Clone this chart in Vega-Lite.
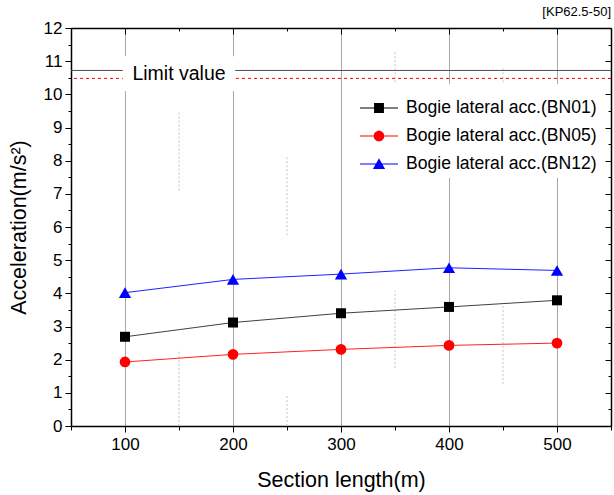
{
  "$schema": "https://vega.github.io/schema/vega-lite/v6.json",
  "autosize": "none",
  "width": 540,
  "height": 398,
  "padding": {"left": 71, "top": 28, "right": 3, "bottom": 69},
  "background": "white",
  "title": {"text": "[KP62.5-50]", "anchor": "end", "frame": "group", "fontSize": 13, "fontWeight": "normal", "font": "Liberation Sans", "color": "#000000", "offset": 0},
  "config": {"font": "Liberation Sans", "view": {"stroke": null}},
  "datasets": {
    "series": [
      {"length": 100, "series": "Bogie lateral acc.(BN01)", "acc": 2.69},
      {"length": 200, "series": "Bogie lateral acc.(BN01)", "acc": 3.12},
      {"length": 300, "series": "Bogie lateral acc.(BN01)", "acc": 3.40},
      {"length": 400, "series": "Bogie lateral acc.(BN01)", "acc": 3.59},
      {"length": 500, "series": "Bogie lateral acc.(BN01)", "acc": 3.79},
      {"length": 100, "series": "Bogie lateral acc.(BN05)", "acc": 1.93},
      {"length": 200, "series": "Bogie lateral acc.(BN05)", "acc": 2.16},
      {"length": 300, "series": "Bogie lateral acc.(BN05)", "acc": 2.31},
      {"length": 400, "series": "Bogie lateral acc.(BN05)", "acc": 2.43},
      {"length": 500, "series": "Bogie lateral acc.(BN05)", "acc": 2.50},
      {"length": 100, "series": "Bogie lateral acc.(BN12)", "acc": 4.02},
      {"length": 200, "series": "Bogie lateral acc.(BN12)", "acc": 4.42},
      {"length": 300, "series": "Bogie lateral acc.(BN12)", "acc": 4.58},
      {"length": 400, "series": "Bogie lateral acc.(BN12)", "acc": 4.77},
      {"length": 500, "series": "Bogie lateral acc.(BN12)", "acc": 4.69}
    ],
    "segments": [
      {"length": 150, "from": 7.1, "to": 9.5},
      {"length": 150, "from": 0, "to": 2.3},
      {"length": 250, "from": 5.75, "to": 8.1},
      {"length": 250, "from": 0, "to": 0.95},
      {"length": 350, "from": 10.0, "to": 11.27},
      {"length": 350, "from": 1.75, "to": 4.07},
      {"length": 450, "from": 10.0, "to": 10.8},
      {"length": 450, "from": 1.27, "to": 3.65}
    ],
    "limits": [
      {"kind": "solid", "level": 10.72},
      {"kind": "dashed", "level": 10.48}
    ],
    "annotation": [
      {"label": "Limit value", "x": 150, "y": 10.6, "left": 98, "right": 202, "bottom": 10.1, "top": 11.15}
    ]
  },
  "resolve": {"axis": {"x": "independent", "y": "independent"}},
  "layer": [
    {
      "data": {"name": "segments"},
      "mark": {"type": "rule", "color": "#c4c4c4", "strokeDash": [2, 2], "strokeWidth": 1},
      "encoding": {
        "x": {"field": "length", "type": "quantitative", "scale": {"domain": [50, 550], "nice": false, "zero": false},
          "axis": {"orient": "bottom", "values": [50, 100, 150, 200, 250, 300, 350, 400, 450, 500, 550],
            "labelExpr": "datum.value % 100 === 0 ? format(datum.value, 'd') : ''",
            "tickSize": {"condition": {"test": "datum.value % 100 === 0", "value": 6}, "value": 4},
            "tickColor": "#000000", "tickWidth": 1, "domainColor": "#000000", "domainWidth": 1.5,
            "labelFontSize": 17, "labelColor": "#000000", "labelFont": "Liberation Sans", "labelPadding": 4,
            "labelFlush": false, "labelOverlap": false,
            "title": "Section length(m)", "titleFontSize": 21.5, "titleFontWeight": "normal", "titleFont": "Liberation Sans", "titleColor": "#000000", "titlePadding": 17,
            "grid": true, "gridColor": "#a8a8a8", "gridWidth": 1,
            "gridOpacity": {"condition": {"test": "datum.value % 100 === 0", "value": 1}, "value": 0}}},
        "y": {"field": "from", "type": "quantitative", "scale": {"domain": [0, 12], "nice": false, "zero": true},
          "axis": {"orient": "left", "values": [0, 0.5, 1, 1.5, 2, 2.5, 3, 3.5, 4, 4.5, 5, 5.5, 6, 6.5, 7, 7.5, 8, 8.5, 9, 9.5, 10, 10.5, 11, 11.5, 12],
            "labelExpr": "datum.value % 1 === 0 ? format(datum.value, 'd') : ''",
            "tickSize": {"condition": {"test": "datum.value % 1 === 0", "value": 6}, "value": 3},
            "tickColor": "#000000", "tickWidth": 1, "domainColor": "#000000", "domainWidth": 1.5,
            "labelFontSize": 17, "labelColor": "#000000", "labelFont": "Liberation Sans", "labelPadding": 3,
            "labelFlush": false, "labelOverlap": false,
            "title": "Acceleration(m/s²)", "titleFontSize": 21.5, "titleFontWeight": "normal", "titleFont": "Liberation Sans", "titleColor": "#000000", "titlePadding": 13,
            "grid": false}},
        "y2": {"field": "to"}
      }
    },
    {
      "data": {"name": "limits"},
      "transform": [{"filter": "datum.kind === 'solid'"}],
      "mark": {"type": "rule", "color": "#505050", "strokeWidth": 1},
      "encoding": {"y": {"field": "level", "type": "quantitative", "scale": {"domain": [0, 12], "nice": false}, "axis": null}}
    },
    {
      "data": {"name": "limits"},
      "transform": [{"filter": "datum.kind === 'dashed'"}],
      "mark": {"type": "rule", "color": "#ff0000", "strokeWidth": 1, "strokeDash": [3, 3]},
      "encoding": {"y": {"field": "level", "type": "quantitative", "scale": {"domain": [0, 12], "nice": false}, "axis": null}}
    },
    {
      "data": {"name": "annotation"},
      "mark": {"type": "rect", "fill": "#ffffff", "stroke": null},
      "encoding": {
        "x": {"field": "left", "type": "quantitative", "scale": {"domain": [50, 550], "nice": false, "zero": false},
          "axis": {"orient": "top", "values": [50, 100, 150, 200, 250, 300, 350, 400, 450, 500, 550], "labels": false,
            "tickSize": {"condition": {"test": "datum.value % 100 === 0", "value": -6}, "value": -3},
            "tickColor": "#000000", "tickWidth": 1, "domainColor": "#000000", "domainWidth": 1.5, "title": null, "grid": false}},
        "x2": {"field": "right"},
        "y": {"field": "bottom", "type": "quantitative", "scale": {"domain": [0, 12], "nice": false},
          "axis": {"orient": "right", "values": [0, 0.5, 1, 1.5, 2, 2.5, 3, 3.5, 4, 4.5, 5, 5.5, 6, 6.5, 7, 7.5, 8, 8.5, 9, 9.5, 10, 10.5, 11, 11.5, 12], "labels": false,
            "tickSize": {"condition": {"test": "datum.value % 1 === 0", "value": -6}, "value": -3},
            "tickColor": "#000000", "tickWidth": 1, "domainColor": "#000000", "domainWidth": 1.5, "title": null, "grid": false}},
        "y2": {"field": "top"}
      }
    },
    {
      "data": {"name": "annotation"},
      "mark": {"type": "text", "fontSize": 19.5, "font": "Liberation Sans", "color": "#000000", "align": "center", "baseline": "middle"},
      "encoding": {
        "x": {"field": "x", "type": "quantitative", "scale": {"domain": [50, 550], "nice": false, "zero": false}, "axis": null},
        "y": {"field": "y", "type": "quantitative", "scale": {"domain": [0, 12], "nice": false}, "axis": null},
        "text": {"field": "label"}
      }
    },
    {
      "data": {"name": "series"},
      "mark": {"type": "point", "filled": true, "opacity": 0},
      "encoding": {
        "x": {"field": "length", "type": "quantitative", "scale": {"domain": [50, 550], "nice": false, "zero": false}, "axis": null},
        "y": {"field": "acc", "type": "quantitative", "scale": {"domain": [0, 12], "nice": false}, "axis": null},
        "fill": {"field": "series", "type": "nominal",
          "scale": {"domain": ["Bogie lateral acc.(BN01)", "Bogie lateral acc.(BN05)", "Bogie lateral acc.(BN12)"], "range": ["#000000", "#ff0000", "#0000ff"]},
          "legend": {"orient": "none", "legendX": 284, "legendY": 56, "title": null, "fillColor": "#ffffff", "padding": 5,
            "labelFontSize": 17.6, "labelFont": "Liberation Sans", "labelColor": "#000000", "labelLimit": 0,
            "symbolSize": 1444, "symbolStrokeWidth": 0, "symbolOpacity": 1, "labelOffset": 8, "rowPadding": -8, "symbolOffset": 0}},
        "shape": {"field": "series", "type": "nominal",
          "scale": {"domain": ["Bogie lateral acc.(BN01)", "Bogie lateral acc.(BN05)", "Bogie lateral acc.(BN12)"],
            "range": [
              "M-1,-0.03H1V0.03H-1Z M-0.26,-0.26H0.26V0.26H-0.26Z",
              "M-1,-0.03H1V0.03H-1Z M-0.28,0A0.28,0.28 0 1,1 0.28,0A0.28,0.28 0 1,1 -0.28,0Z",
              "M-1,-0.03H1V0.03H-1Z M0,-0.3L0.32,0.26H-0.32Z"
            ]},
          "legend": {"orient": "none", "legendX": 284, "legendY": 56, "title": null, "fillColor": "#ffffff", "padding": 5,
            "labelFontSize": 17.6, "labelFont": "Liberation Sans", "labelColor": "#000000", "labelLimit": 0,
            "symbolSize": 1444, "symbolStrokeWidth": 0, "symbolOpacity": 1, "labelOffset": 8, "rowPadding": -8, "symbolOffset": 0}}
      }
    },
    {
      "data": {"name": "series"},
      "mark": {"type": "line", "strokeWidth": 1},
      "encoding": {
        "x": {"field": "length", "type": "quantitative", "scale": {"domain": [50, 550], "nice": false, "zero": false}, "axis": null},
        "y": {"field": "acc", "type": "quantitative", "scale": {"domain": [0, 12], "nice": false}, "axis": null},
        "color": {"field": "series", "type": "nominal", "scale": {"domain": ["Bogie lateral acc.(BN01)", "Bogie lateral acc.(BN05)", "Bogie lateral acc.(BN12)"], "range": ["#404040", "#ff2020", "#2020ff"]}, "legend": null}
      }
    },
    {
      "data": {"name": "series"},
      "transform": [{"filter": "datum.series === 'Bogie lateral acc.(BN01)'"}],
      "mark": {"type": "point", "shape": "square", "filled": true, "size": 100, "color": "#000000", "opacity": 1},
      "encoding": {
        "x": {"field": "length", "type": "quantitative", "scale": {"domain": [50, 550], "nice": false, "zero": false}, "axis": null},
        "y": {"field": "acc", "type": "quantitative", "scale": {"domain": [0, 12], "nice": false}, "axis": null}
      }
    },
    {
      "data": {"name": "series"},
      "transform": [{"filter": "datum.series === 'Bogie lateral acc.(BN05)'"}],
      "mark": {"type": "point", "shape": "circle", "filled": true, "size": 115, "color": "#ff0000", "opacity": 1},
      "encoding": {
        "x": {"field": "length", "type": "quantitative", "scale": {"domain": [50, 550], "nice": false, "zero": false}, "axis": null},
        "y": {"field": "acc", "type": "quantitative", "scale": {"domain": [0, 12], "nice": false}, "axis": null}
      }
    },
    {
      "data": {"name": "series"},
      "transform": [{"filter": "datum.series === 'Bogie lateral acc.(BN12)'"}],
      "mark": {"type": "point", "shape": "triangle-up", "filled": true, "size": 150, "color": "#0000ff", "opacity": 1},
      "encoding": {
        "x": {"field": "length", "type": "quantitative", "scale": {"domain": [50, 550], "nice": false, "zero": false}, "axis": null},
        "y": {"field": "acc", "type": "quantitative", "scale": {"domain": [0, 12], "nice": false}, "axis": null}
      }
    }
  ]
}
